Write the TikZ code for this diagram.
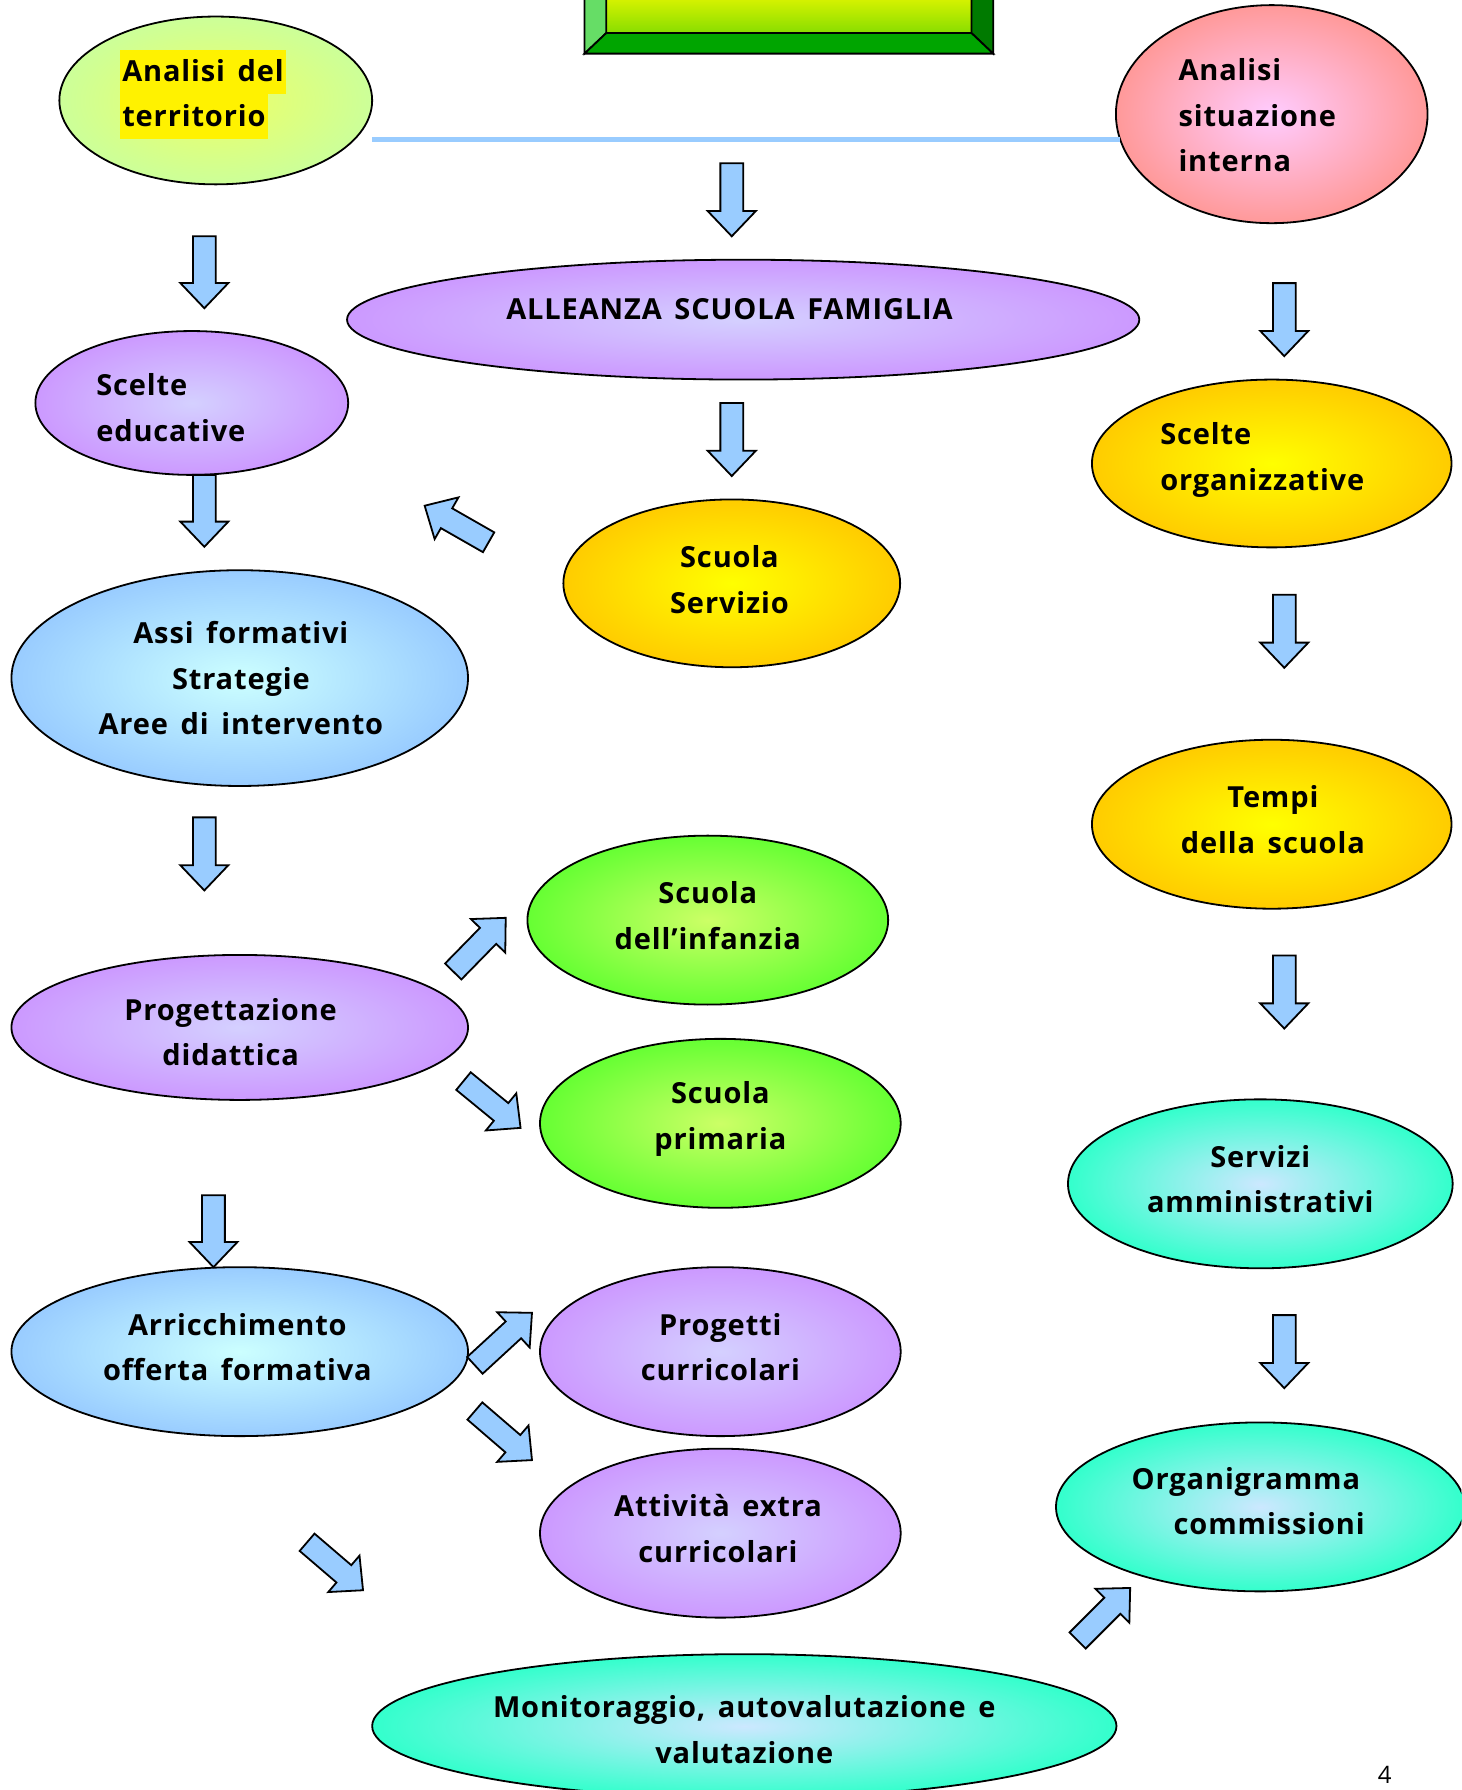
\documentclass[tikz,border=0pt]{standalone}
\usepackage{fontspec}
\setmainfont{Open Sans}[LetterSpace=3,WordSpace=1.5]
\usetikzlibrary{calc,shapes.geometric}
\definecolor{arrblue}{HTML}{99CCFF}
\definecolor{purE}{HTML}{CC99FF}\definecolor{purC}{HTML}{D4D0FF}
\definecolor{bluE}{HTML}{99CCFF}\definecolor{bluC}{HTML}{CCFFFF}
\definecolor{grnE}{HTML}{66FF33}\definecolor{grnC}{HTML}{CCFF66}
\definecolor{cyaE}{HTML}{33FFCC}\definecolor{cyaC}{HTML}{CCE8FF}
\definecolor{oraE}{HTML}{FFCC00}\definecolor{oraC}{HTML}{FFFF00}
\definecolor{pinE}{HTML}{FF9999}\definecolor{pinC}{HTML}{FFCCFF}
\definecolor{ygrE}{HTML}{CCFF99}\definecolor{ygrC}{HTML}{EEFF66}
\definecolor{bevL}{HTML}{66DD66}\definecolor{bevB}{HTML}{00A500}\definecolor{bevR}{HTML}{007A00}
\definecolor{boxT}{HTML}{E0F500}\definecolor{boxB}{HTML}{88DD00}
\def\u{0.5707pt}
\newcommand\barrow[2]{%
  \coordinate (bc) at ($(#2)!12.6pt!(#1)$);
  \draw[blockarr] ($(#1)!5.7pt!90:(#2)$) -- ($(bc)!5.7pt!90:(#2)$) -- ($(bc)!12pt!90:(#2)$) -- (#2)
     -- ($(bc)!12pt!-90:(#2)$) -- ($(bc)!5.7pt!-90:(#2)$) -- ($(#1)!5.7pt!-90:(#2)$) -- cycle;}
\tikzset{
  ell/.style 2 args={ellipse, draw=black, line width=0.9pt, inner sep=0pt,
     minimum width=#1*\u, minimum height=#2*\u},
  pur/.style={inner color=purC, outer color=purE},
  blu/.style={inner color=bluC, outer color=bluE},
  grn/.style={inner color=grnC, outer color=grnE},
  cya/.style={inner color=cyaC, outer color=cyaE},
  ora/.style={inner color=oraC, outer color=oraE},
  txt/.style={font=\fontsize{14.5}{22.8}\selectfont\bfseries, inner sep=0pt, text=black},
  blockarr/.style={fill=arrblue, draw=black, line width=0.9pt, line join=miter},
}
\begin{document}
\begin{tikzpicture}[x=0.5707pt, y=-0.5707pt]
\useasboundingbox (0,0) rectangle (1280,1568);
\clip (0,0) rectangle (1280,1568);
% top beveled box
\shade[top color=boxT, bottom color=boxB] (531,-5) rectangle (851,29);
\filldraw[fill=bevL, draw=black, line width=0.9pt] (512,-5) -- (531,-5) -- (531,29) -- (512,47) -- cycle;
\filldraw[fill=bevR, draw=black, line width=0.9pt] (851,-5) -- (870,-5) -- (870,47) -- (851,29) -- cycle;
\filldraw[fill=bevB, draw=black, line width=0.9pt] (512,47) -- (531,29) -- (851,29) -- (870,47) -- cycle;
% ellipses
\node[ell={274}{147}, inner color=ygrC, outer color=ygrE] (terr) at (189,88) {};
\node[ell={273}{191}, inner color=pinC, outer color=pinE] (interna) at (1114,100) {};
\node[ell={694}{105}, pur] (alleanza) at (651,280) {};
\node[ell={274}{126}, pur] (educ) at (168,353) {};
\node[ell={315}{147}, ora] (organ) at (1114,406) {};
\node[ell={295}{147}, ora] (servizio) at (641,511) {};
\node[ell={400}{189}, blu] (assi) at (210,594) {};
\node[ell={315}{148}, ora] (tempi) at (1114,722) {};
\node[ell={316}{148}, grn] (infanzia) at (620,806) {};
\node[ell={400}{127}, pur] (proget) at (210,900) {};
\node[ell={316}{148}, grn] (primaria) at (631,984) {};
\node[ell={337}{148}, cya] (servizi) at (1104,1037) {};
\node[ell={400}{148}, blu] (arricch) at (210,1184) {};
\node[ell={316}{148}, pur] (curric) at (631,1184) {};
\node[ell={316}{148}, pur] (extra) at (631,1343) {};
\node[ell={358}{148}, cya] (organi) at (1104,1320) {};
\node[ell={652}{126}, cya] (monit) at (652,1512) {};
% light blue line
\coordinate (lA) at (326,122);
\coordinate (lB) at (981,122);
\draw[arrblue, line width=2.3pt] (lA) -- (lB);
% block arrows
\coordinate (a1t) at (641,143);  \coordinate (a1h) at (641,207);
\coordinate (a2t) at (179,207);  \coordinate (a2h) at (179,270);
\coordinate (a3t) at (641,353);  \coordinate (a3h) at (641,417);
\coordinate (a4t) at (1125,248); \coordinate (a4h) at (1125,312);
\coordinate (a5t) at (179,416);  \coordinate (a5h) at (179,479);
\coordinate (a6t) at (1125,521); \coordinate (a6h) at (1125,585);
\coordinate (a7t) at (179,716);  \coordinate (a7h) at (179,780);
\coordinate (a8t) at (1125,837); \coordinate (a8h) at (1125,901);
\coordinate (a9t) at (187,1047); \coordinate (a9h) at (187,1110);
\coordinate (a10t) at (1125,1152); \coordinate (a10h) at (1125,1216);
\coordinate (d1t) at (428,475);  \coordinate (d1h) at (372,443);
\coordinate (d2t) at (397,851);  \coordinate (d2h) at (443,804);
\coordinate (d3t) at (406,947);  \coordinate (d3h) at (456,988);
\coordinate (d4t) at (416,1196); \coordinate (d4h) at (466,1150);
\coordinate (d5t) at (416,1236); \coordinate (d5h) at (466,1279);
\coordinate (d6t) at (269,1351); \coordinate (d6h) at (318,1393);
\coordinate (d7t) at (944,1437); \coordinate (d7h) at (990,1391);
\foreach \n in {a1,a2,a3,a4,a5,a6,a7,a8,a9,a10,d1,d2,d3,d4,d5,d6,d7}{\barrow{\n t}{\n h}}
% texts
\node[txt, fill=yellow, anchor=west, text height=15pt, text depth=5pt, inner ysep=1.2pt, inner xsep=1pt] (t1a) at (105,63) {Analisi del};
\node[txt, fill=yellow, anchor=west, text height=15pt, text depth=5pt, inner ysep=1.2pt, inner xsep=1pt] (t1b) at (105,102) {territorio};
\node[txt, align=left, anchor=west] (t2) at (1032,101) {Analisi\\situazione\\interna};
\node[txt] (t3) at (639,271) {ALLEANZA SCUOLA FAMIGLIA};
\node[txt, align=left, anchor=west] (t4) at (84,357) {Scelte\\educative};
\node[txt, align=left, anchor=west] (t5) at (1016,403) {Scelte\\organizzative};
\node[txt, align=center] (t6) at (639,508) {Scuola\\Servizio};
\node[txt, align=center] (t7) at (211,594) {Assi formativi\\Strategie\\Aree di intervento};
\node[txt, align=center] (t8) at (1115,718) {Tempi\\della scuola};
\node[txt, align=center] (t9) at (620,802) {Scuola\\dell’infanzia};
\node[txt, align=center] (t10) at (202,904) {Progettazione\\didattica};
\node[txt, align=center] (t11) at (631,980) {Scuola\\primaria};
\node[txt, align=center] (t12) at (1104,1033) {Servizi\\amministrativi};
\node[txt, align=center] (t13) at (208,1180) {Arricchimento\\offerta formativa};
\node[txt, align=center] (t14) at (631,1180) {Progetti\\curricolari};
\node[txt, align=center] (t15) at (629,1339) {Attività extra\\curricolari};
\node[txt, align=left, anchor=west] (t16) at (991,1315) {Organigramma\\\hspace*{21pt}commissioni};
\node[txt, align=center] (t17) at (652,1515) {Monitoraggio, autovalutazione e\\valutazione};
\node[font=\fontsize{12}{14}\selectfont\addfontfeatures{LetterSpace=0}, inner sep=0pt] (pg) at (1213,1555) {4};
\end{tikzpicture}
\end{document}
